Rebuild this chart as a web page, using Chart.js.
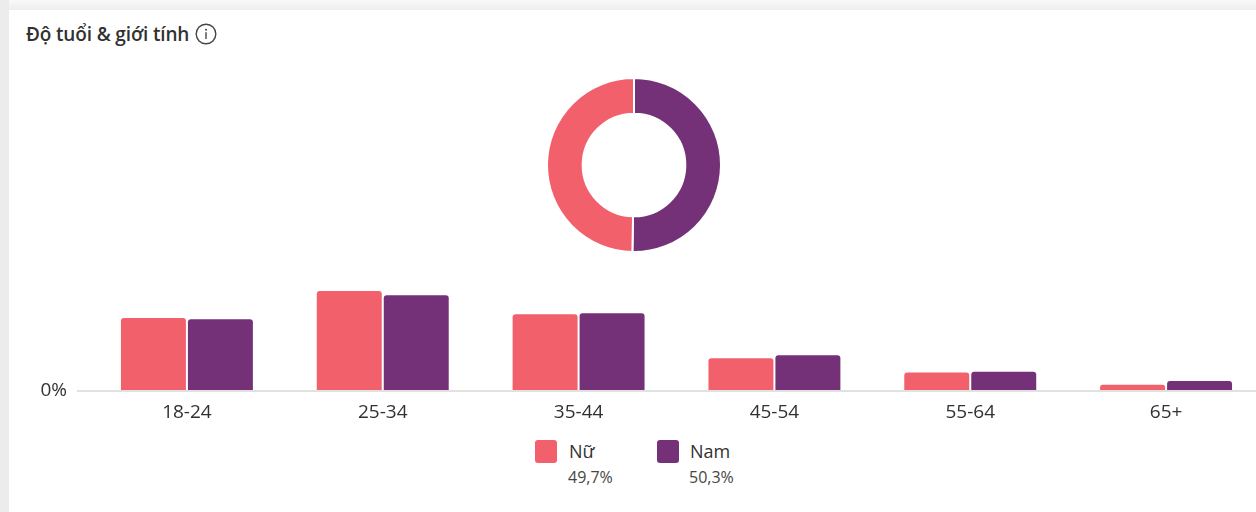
<!DOCTYPE html>
<html lang="vi">
<head>
<meta charset="utf-8">
<script src="https://cdn.jsdelivr.net/npm/chart.js@4"></script>
<style>
html,body{margin:0;padding:0;width:1256px;height:512px;overflow:hidden;background:#fff;font-family:"Open Sans","Noto Sans",sans-serif;color:#323130}
#strip-top{position:absolute;left:0;top:0;width:1256px;height:10px;background:linear-gradient(#f9f9f9,#eeeeee)}
#strip-left{position:absolute;left:0;top:0;width:9px;height:512px;background:#ececec}
#title{position:absolute;left:26px;top:21px;font-size:19px;line-height:26px;font-weight:600;letter-spacing:-.15px;white-space:nowrap}
#info{position:absolute;left:195px;top:23px}
#donut{position:absolute;left:534px;top:65px}
#bars{position:absolute;left:0;top:246px}
.sw{position:absolute;top:440px;width:22px;height:23px;border-radius:3px}
.ln{position:absolute;top:439px;font-size:18px;line-height:24px;white-space:nowrap}
.pc{position:absolute;top:467px;font-size:16px;line-height:20px;color:#484644;white-space:nowrap}
</style>
</head>
<body>
<div id="strip-top"></div><div id="strip-left"></div>
<div id="title"></div>
<svg id="info" width="22" height="22" viewBox="0 0 22 22" aria-hidden="true">
<circle cx="11" cy="11" r="9.8" fill="none" stroke="#484644" stroke-width="1.4"/>
<circle cx="11" cy="6.8" r="1" fill="#484644"/>
<rect x="10.3" y="9.2" width="1.4" height="6.8" fill="#484644"/>
</svg>
<canvas id="donut" width="200" height="200"></canvas>
<canvas id="bars" width="1264" height="185"></canvas>
<div id="legend"></div>
<script>
const titleText = 'Độ tuổi & giới tính';
const ageGroups = ['18-24','25-34','35-44','45-54','55-64','65+'];
const femaleValues = [11.8,16.2,12.4,5.3,3.0,1.0];
const maleValues = [11.6,15.5,12.6,5.8,3.1,1.6];
const femaleName = 'Nữ';
const maleName = 'Nam';
const femaleShare = 49.7;
const maleShare = 50.3;
const femaleColor = '#f2606b';
const maleColor = '#743177';

document.getElementById('title').textContent = titleText;
const common = {responsive:false,animation:false,plugins:{legend:{display:false},tooltip:{enabled:false}}};

new Chart(document.getElementById('donut'),{
  type:'doughnut',
  data:{labels:[maleName,femaleName],datasets:[{data:[maleShare,femaleShare],backgroundColor:[maleColor,femaleColor],borderColor:'#fff',borderWidth:2}]},
  options:{...common,radius:87,cutout:'59%'}
});

new Chart(document.getElementById('bars'),{
  type:'bar',
  data:{labels:ageGroups,datasets:[
    {label:femaleName,data:femaleValues,backgroundColor:femaleColor,borderRadius:{topLeft:3,topRight:3},categoryPercentage:.684,barPercentage:.97},
    {label:maleName,data:maleValues,backgroundColor:maleColor,borderRadius:{topLeft:3,topRight:3},categoryPercentage:.684,barPercentage:.97}
  ]},
  options:{...common,
    scales:{
      x:{grid:{display:false},border:{display:false},
         ticks:{color:'#323130',font:{family:'"Open Sans"',size:19},padding:2,maxRotation:0},
         afterFit(s){s.height=40;}},
      y:{min:0,max:20,border:{display:false},
         grid:{color:'#e1e1e1',lineWidth:2,tickLength:12},
         afterBuildTicks(s){s.ticks=[{value:0}];},
         ticks:{color:'#323130',font:{family:'"Open Sans"',size:19},padding:10,callback:v=>v+'%'},
         afterFit(s){s.width=89;}}
    }
  }
});

const legendItems = [
  {name:femaleName,share:femaleShare,color:femaleColor,sw:535,txt:569},
  {name:maleName,share:maleShare,color:maleColor,sw:657,txt:690}
];
const legend = document.getElementById('legend');
legendItems.forEach(it=>{
  legend.insertAdjacentHTML('beforeend',
    `<div class="sw" style="left:${it.sw}px;background:${it.color}"></div>`+
    `<div class="ln" style="left:${it.txt}px">${it.name}</div>`+
    `<div class="pc" style="left:${it.txt-1}px">${it.share.toFixed(1).replace('.',',')}%</div>`);
});
</script>
</body>
</html>
